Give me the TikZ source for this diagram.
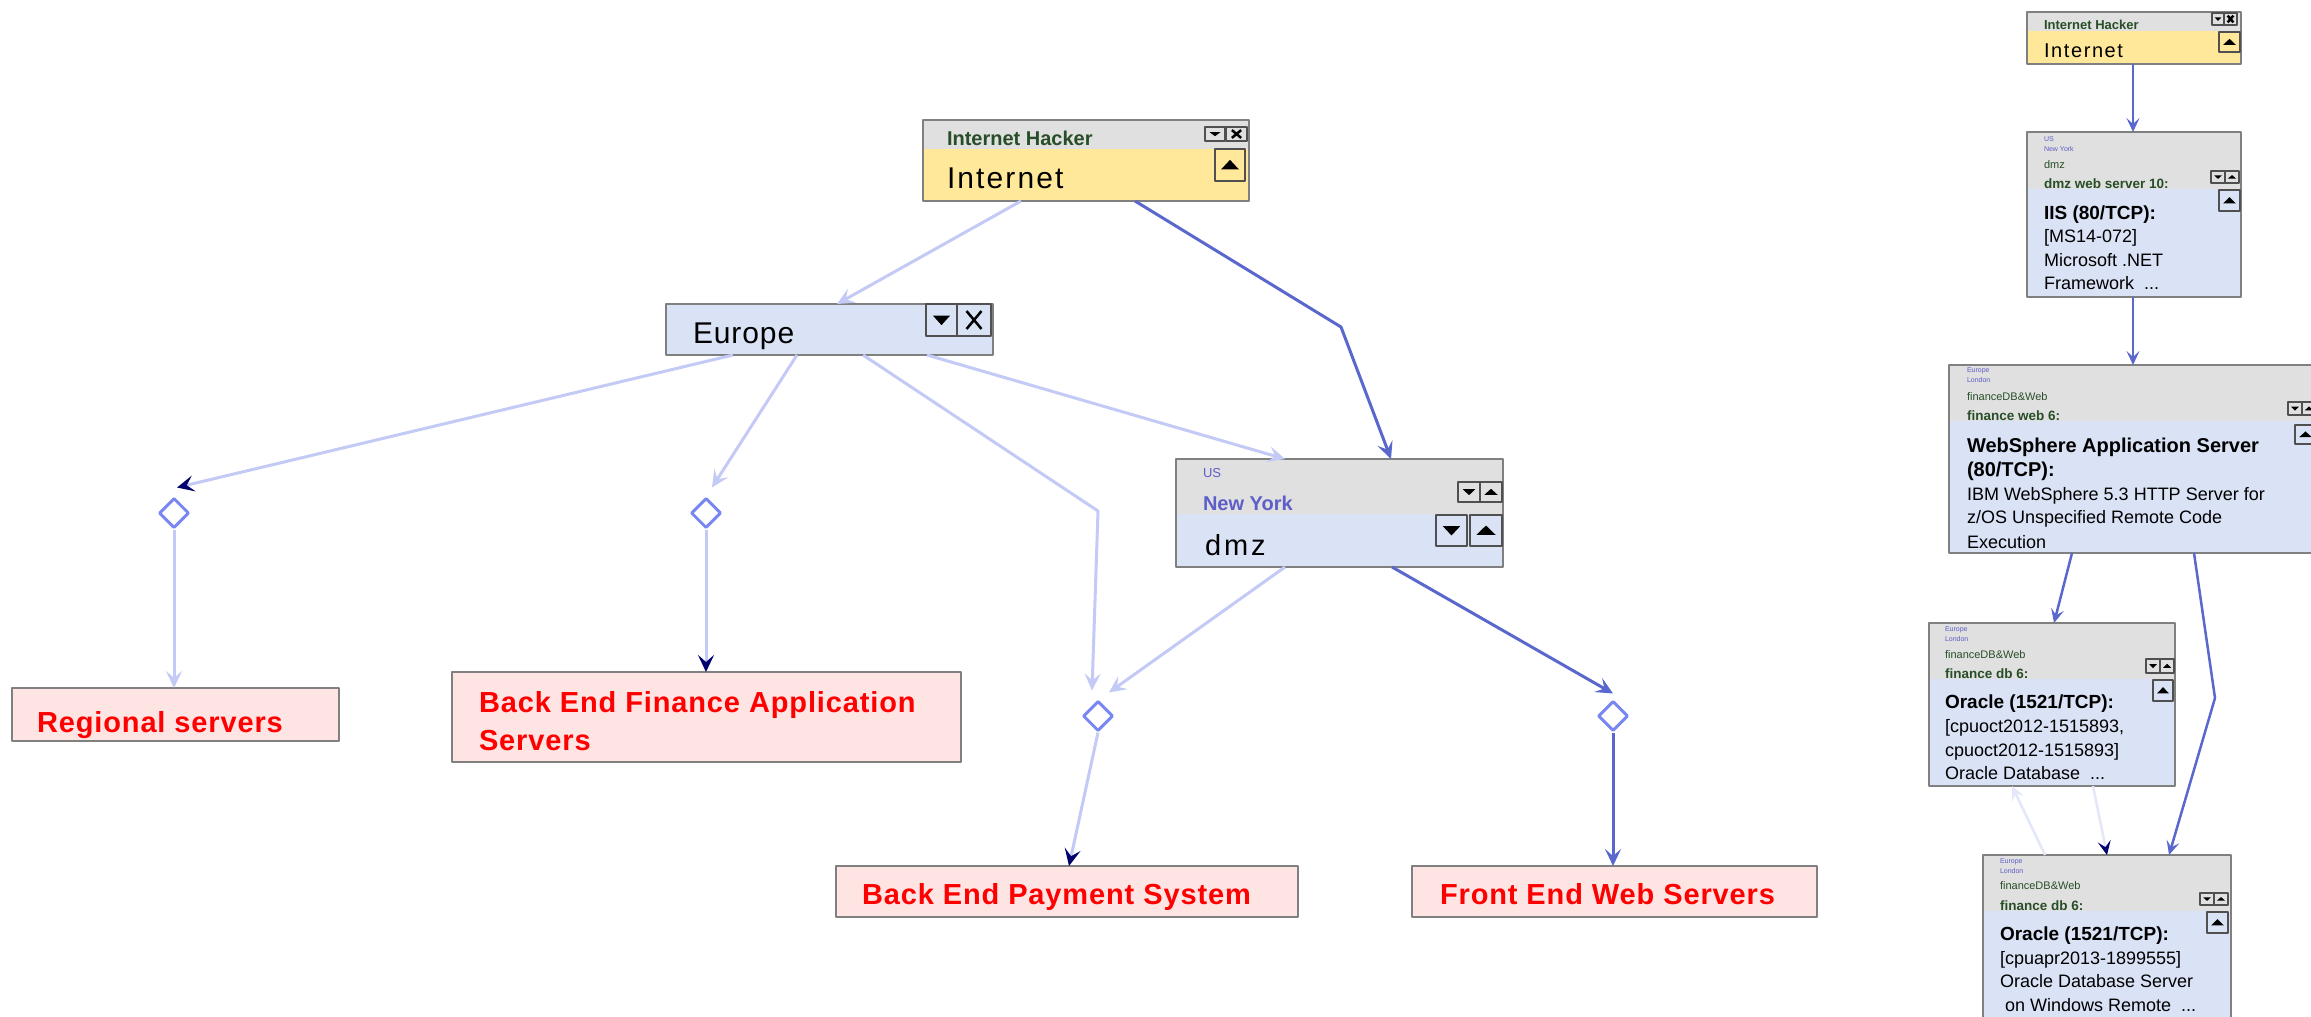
\documentclass[tikz,border=0pt]{standalone}
\usepackage{fontspec}
\setmainfont{Liberation Sans}
\usetikzlibrary{arrows.meta,shapes.geometric,calc}
\definecolor{hdrc}{HTML}{E0E0E0}
\definecolor{yelc}{HTML}{FFE899}
\definecolor{bluc}{HTML}{DAE2F5}
\definecolor{pinkc}{HTML}{FFE4E4}
\definecolor{bordc}{HTML}{808080}
\definecolor{btnc}{HTML}{505050}
\definecolor{grnc}{HTML}{284E28}
\definecolor{purc}{HTML}{5E5EC8}
\definecolor{redc}{HTML}{FF0000}
\definecolor{lightc}{HTML}{C3CAF6}
\definecolor{darkc}{HTML}{5A68CD}
\definecolor{navyc}{HTML}{00006E}
\definecolor{diac}{HTML}{7887F2}
\definecolor{faintc}{HTML}{E4E7FA}
\tikzset{
  box/.style={anchor=north west, inner sep=0pt, outer sep=0pt},
  bord/.style={draw=bordc, line width=2pt},
  btnb/.style={draw=btnc, line width=1.5pt},
  lt/.style={anchor=base west, inner sep=0pt, outer sep=0pt},
  fs/.style={font=\fontsize{#1}{#1}\selectfont},
  fsb/.style={font=\fontsize{#1}{#1}\selectfont\bfseries},
  fsw/.style 2 args={font=\fontsize{#1}{#1}\selectfont\addfontfeature{LetterSpace=#2}},
  fsbw/.style 2 args={font=\fontsize{#1}{#1}\selectfont\bfseries\addfontfeature{LetterSpace=#2}},
  redbox/.style={box, fill=pinkc, draw=bordc, line width=2pt},
  redtxt/.style={lt, fsbw={29}{3}, text=redc},
  dia/.style={shape=diamond, draw=diac, fill=white, line width=3pt, minimum width=30pt, minimum height=30pt, inner sep=0pt},
  conlight/.style={draw=lightc, line width=3pt, -{Stealth[length=17pt,width=16pt,inset=7pt,color=lightc]}},
  conlightnavy/.style={draw=lightc, line width=3pt, -{Stealth[length=17pt,width=16pt,inset=7pt,color=navyc]}},
  condark/.style={draw=darkc, line width=3pt, -{Stealth[length=17pt,width=16pt,inset=7pt,color=darkc]}},
  condarksm/.style={draw=darkc, line width=2.5pt, -{Stealth[length=14pt,width=13pt,inset=6pt,color=darkc]}},
  confaint/.style={draw=faintc, line width=2.5pt, -{Stealth[length=14pt,width=13pt,inset=6pt,color=faintc]}},
  confaintnavy/.style={draw=faintc, line width=2.5pt, -{Stealth[length=14pt,width=13pt,inset=6pt,color=navyc]}},
}
\newcommand{\btndn}[4]{%
  \draw[btnb] (#1,#2) rectangle ({#1+#3},{#2+#4});
  \fill ({#1+0.22*#3},{#2+0.36*#4}) -- ({#1+0.78*#3},{#2+0.36*#4}) -- ({#1+0.5*#3},{#2+0.66*#4}) -- cycle;}
\newcommand{\btnup}[4]{%
  \draw[btnb] (#1,#2) rectangle ({#1+#3},{#2+#4});
  \fill ({#1+0.2*#3},{#2+0.64*#4}) -- ({#1+0.8*#3},{#2+0.64*#4}) -- ({#1+0.5*#3},{#2+0.34*#4}) -- cycle;}
\newcommand{\btnx}[4]{%
  \draw[btnb] (#1,#2) rectangle ({#1+#3},{#2+#4});
  \draw[line width=2.5pt] ({#1+0.28*#3},{#2+0.22*#4}) -- ({#1+0.72*#3},{#2+0.78*#4}) ({#1+0.72*#3},{#2+0.22*#4}) -- ({#1+0.28*#3},{#2+0.78*#4});}
\begin{document}
\begin{tikzpicture}[x=1pt,y=-1pt,line join=round]
\useasboundingbox (0,0) rectangle (2311,1017);
\fill[white] (0,0) rectangle (2311,1017);

% ---------- main graph ----------
% Internet
\node[box, minimum width=326pt, minimum height=81pt, fill=yelc] (inet) at (923,120) {};
\fill[hdrc] (inet.north west) rectangle ($(inet.north east)+(0,29)$);
\draw[bord] (inet.north west) rectangle (inet.south east);
\node[lt, fsb=20, text=grnc] at (947,145) {Internet Hacker};
\node[lt, fsw={30}{7}] at (947,188) {Internet};
\btndn{1205}{127}{20}{14}
\btnx{1226}{127}{21}{14}
\btnup{1215}{149}{30}{32}

% Europe
\node[box, minimum width=327pt, minimum height=51pt, fill=bluc] (europe) at (666,304) {};
\draw[bord] (europe.north west) rectangle (europe.south east);
\node[lt, fsw={30}{3}] at (693,343) {Europe};
\btndn{926}{304}{31}{32}
\btnx{957}{304}{34}{32}

% dmz
\node[box, minimum width=327pt, minimum height=108pt, fill=bluc] (dmz) at (1176,459) {};
\fill[hdrc] (dmz.north west) rectangle ($(dmz.north east)+(0,55)$);
\draw[bord] (dmz.north west) rectangle (dmz.south east);
\node[lt, fs=13, text=purc] at (1203,477) {US};
\node[lt, fsb=20, text=purc] at (1203,510) {New York};
\node[lt, fsw={29}{10}] at (1205,555) {dmz};
\btndn{1458}{482}{22}{20}
\btnup{1480}{482}{22}{20}
\btndn{1436}{515}{31}{31}
\btnup{1470}{515}{32}{31}

% target boxes
\node[redbox, minimum width=327pt, minimum height=53pt] (rs) at (12,688) {};
\node[redtxt] at (37,732) {Regional servers};
\node[redbox, minimum width=509pt, minimum height=90pt] (befas) at (452,672) {};
\node[redtxt] at (479,712) {Back End Finance Application};
\node[redtxt] at (479,750) {Servers};
\node[redbox, minimum width=462pt, minimum height=51pt] (beps) at (836,866) {};
\node[redtxt] at (862,904) {Back End Payment System};
\node[redbox, minimum width=405pt, minimum height=51pt] (fews) at (1412,866) {};
\node[redtxt] at (1440,904) {Front End Web Servers};

% diamonds
\node[dia] (d1) at (174,513) {};
\node[dia] (d2) at (706,513) {};
\node[dia] (d3) at (1098,716) {};
\node[dia] (d4) at (1613,716) {};

% connectors (main)
\coordinate (bendA) at (1341,327);
\coordinate (bendB) at (1098,511);
\draw[conlight] ($(inet.south west)+(98,0)$) -- ($(europe.north west)+(171,0)$);
\draw[condark] ($(inet.south west)+(212,0)$) -- (bendA) -- ($(dmz.north west)+(215,0)$);
\draw[conlightnavy] ($(europe.south west)+(67,0)$) -- ($(d1.north)+(3,-9)$);
\draw[conlight] ($(europe.south west)+(131,0)$) -- ($(d2.north)+(6,-9)$);
\draw[conlight] ($(europe.south west)+(197,0)$) -- (bendB) -- ($(d3.north)+(-6,-9)$);
\draw[conlight] ($(europe.south east)+(-66,0)$) -- ($(dmz.north west)+(109,0)$);
\draw[conlight] ($(dmz.south west)+(109,0)$) -- ($(d3.north)+(11,-7)$);
\draw[condark] ($(dmz.south west)+(216,0)$) -- ($(d4.north)+(0,-6)$);
\draw[conlight] (d1.south) -- (d1.south |- rs.north);
\draw[conlightnavy] (d2.south) -- (d2.south |- befas.north);
\draw[conlightnavy] (d3.south) -- ($(beps.north west)+(233,0)$);
\draw[condark] (d4.south) -- (d4.south |- fews.north);

% ---------- right column ----------
% Internet (small)
\node[box, minimum width=214pt, minimum height=52pt, fill=yelc] (rinet) at (2027,12) {};
\fill[hdrc] (rinet.north west) rectangle ($(rinet.north east)+(0,19)$);
\draw[bord] (rinet.north west) rectangle (rinet.south east);
\node[lt, fsb=13, text=grnc] at (2044,29) {Internet Hacker};
\node[lt, fsw={20}{8}] at (2044,57) {Internet};
\btndn{2212}{13}{12}{12}
\btnx{2224}{13}{13}{12}
\btnup{2219}{32}{21}{20}

% dmz web server 10
\node[box, minimum width=214pt, minimum height=165pt, fill=bluc] (rdmz) at (2027,132) {};
\fill[hdrc] (rdmz.north west) rectangle ($(rdmz.north east)+(0,57)$);
\draw[bord] (rdmz.north west) rectangle (rdmz.south east);
\node[lt, fs=7, text=purc] at (2044,141) {US};
\node[lt, fs=7, text=purc] at (2044,151) {New York};
\node[lt, fs=11, text=grnc] at (2044,168) {dmz};
\node[lt, fsb=13.5, text=grnc] at (2044,188) {dmz web server 10:};
\node[lt, fsb=19] at (2044,219) {IIS (80/TCP):};
\node[lt, fs=18] at (2044,242) {[MS14-072]};
\node[lt, fs=18] at (2044,266) {Microsoft .NET};
\node[lt, fs=18] at (2044,289) {Framework\ \ ...};
\btndn{2211}{171}{14}{12}
\btnup{2225}{171}{14}{12}
\btnup{2219}{190}{21}{21}

% finance web 6
\node[box, minimum width=369pt, minimum height=188pt, fill=bluc] (rfweb) at (1949,365) {};
\fill[hdrc] (rfweb.north west) rectangle ($(rfweb.north east)+(0,56)$);
\draw[bord] (rfweb.north west) rectangle (rfweb.south east);
\node[lt, fs=7, text=purc] at (1967,372) {Europe};
\node[lt, fs=7, text=purc] at (1967,382) {London};
\node[lt, fs=11, text=grnc] at (1967,400) {financeDB\&Web};
\node[lt, fsb=13.5, text=grnc] at (1967,420) {finance web 6:};
\node[lt, fsb=20] at (1967,452) {WebSphere Application Server};
\node[lt, fsb=20] at (1967,476) {(80/TCP):};
\node[lt, fs=18] at (1967,500) {IBM WebSphere 5.3 HTTP Server for};
\node[lt, fs=18] at (1967,523) {z/OS Unspecified Remote Code};
\node[lt, fs=18] at (1967,548) {Execution};
\btndn{2288}{402}{14}{13}
\btnup{2302}{402}{14}{13}
\btnup{2295}{425}{21}{19}

% finance db 6 (upper)
\node[box, minimum width=246pt, minimum height=163pt, fill=bluc] (rdba) at (1929,623) {};
\fill[hdrc] (rdba.north west) rectangle ($(rdba.north east)+(0,56)$);
\draw[bord] (rdba.north west) rectangle (rdba.south east);
\node[lt, fs=7, text=purc] at (1945,631) {Europe};
\node[lt, fs=7, text=purc] at (1945,641) {London};
\node[lt, fs=11, text=grnc] at (1945,658) {financeDB\&Web};
\node[lt, fsb=13.5, text=grnc] at (1945,678) {finance db 6:};
\node[lt, fsb=19] at (1945,708) {Oracle (1521/TCP):};
\node[lt, fs=18] at (1945,732) {[cpuoct2012-1515893,};
\node[lt, fs=18] at (1945,756) {cpuoct2012-1515893]};
\node[lt, fs=18] at (1945,779) {Oracle Database\ \ ...};
\btndn{2146}{659}{14}{14}
\btnup{2160}{659}{14}{14}
\btnup{2153}{680}{20}{21}

% finance db 6 (lower)
\node[box, minimum width=248pt, minimum height=170pt, fill=bluc] (rdbb) at (1983,855) {};
\fill[hdrc] (rdbb.north west) rectangle ($(rdbb.north east)+(0,56)$);
\draw[bord] (rdbb.north west) rectangle (rdbb.south east);
\node[lt, fs=7, text=purc] at (2000,863) {Europe};
\node[lt, fs=7, text=purc] at (2000,873) {London};
\node[lt, fs=11, text=grnc] at (2000,889) {financeDB\&Web};
\node[lt, fsb=13.5, text=grnc] at (2000,910) {finance db 6:};
\node[lt, fsb=19] at (2000,940) {Oracle (1521/TCP):};
\node[lt, fs=18] at (2000,964) {[cpuapr2013-1899555]};
\node[lt, fs=18] at (2000,987) {Oracle Database Server};
\node[lt, fs=18] at (2005,1011) {on Windows Remote\ \ ...};
\btndn{2200}{893}{14}{12}
\btnup{2214}{893}{14}{12}
\btnup{2207}{912}{21}{21}

% connectors (right column)
\coordinate (bendC) at (2215,698);
\draw[condarksm] ($(rinet.south west)+(106,0)$) -- ($(rdmz.north west)+(106,0)$);
\draw[condarksm] ($(rdmz.south west)+(106,0)$) -- ($(rfweb.north west)+(184,0)$);
\draw[condarksm] ($(rfweb.south west)+(123,0)$) -- ($(rdba.north west)+(125,0)$);
\draw[condarksm] ($(rfweb.south west)+(245,0)$) -- (bendC) -- ($(rdbb.north west)+(186,0)$);
\draw[confaint] ($(rdbb.north west)+(62,0)$) -- ($(rdba.south west)+(83,0)$);
\draw[confaintnavy] ($(rdba.south west)+(164,0)$) -- ($(rdbb.north west)+(124,0)$);
\end{tikzpicture}
\end{document}
